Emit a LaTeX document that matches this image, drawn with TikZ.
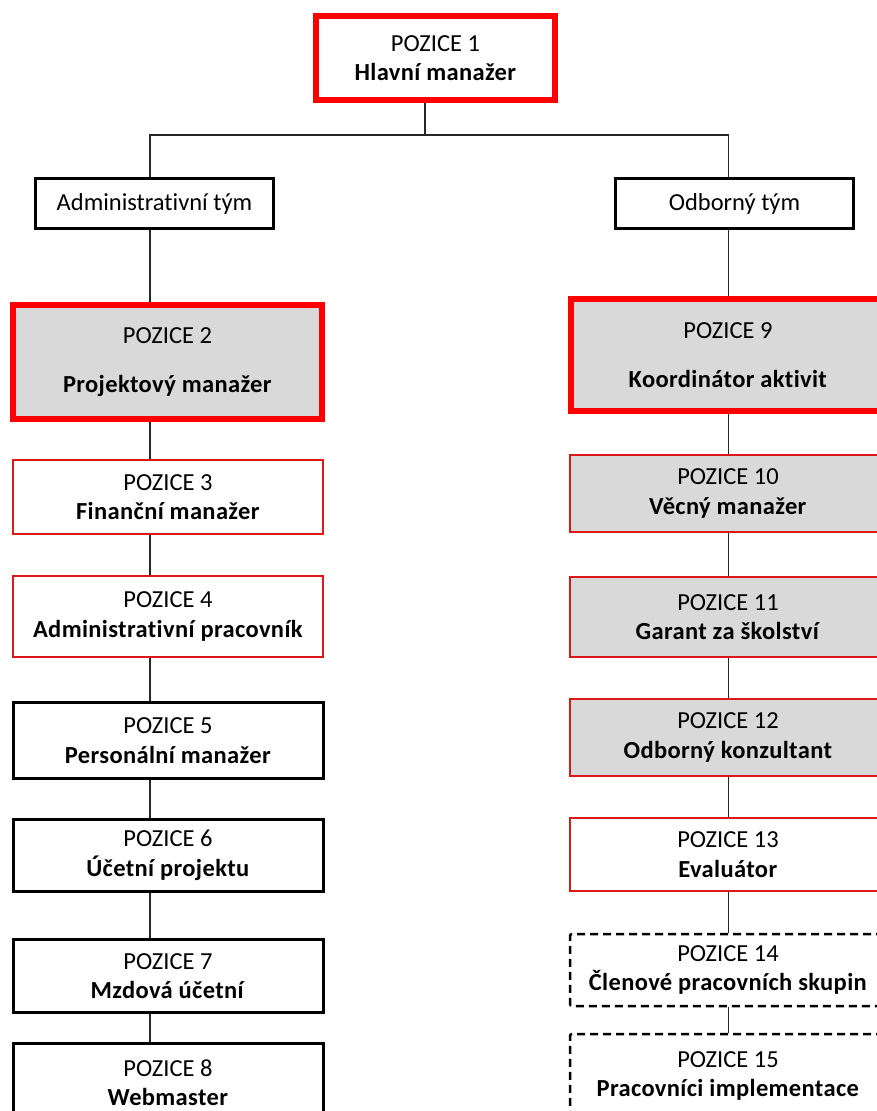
\documentclass[tikz,border=0pt]{standalone}
\usepackage{fontspec}
\setmainfont{Carlito}[Ligatures=NoCommon, BoldFeatures={LetterSpace=1.5}]
\usepackage{tikz}
\usepackage{xcolor}
\usetikzlibrary{positioning}
\definecolor{pozred}{rgb}{1, 0, 0}
\definecolor{pozdarkred}{rgb}{0.86, 0.1, 0.1}
\definecolor{pozgrey}{rgb}{0.85, 0.85, 0.85}
\definecolor{pozline}{rgb}{0.15, 0.15, 0.15}

\begin{document}
\begin{tikzpicture}[x=1pt, y=-1pt,
        box/.style={draw, rectangle, inner sep=0pt, align=center, fill=white, font=\fontsize{24.5}{29.5}\selectfont},
        keybox/.style={box, line width=6pt, draw=pozred},
        redbox/.style={box, line width=2.5pt, draw=pozdarkred},
        blackbox/.style={box, line width=3pt, draw=black},
        dashbox/.style={box, line width=2.5pt, draw=black, dash pattern=on 8pt off 5pt, rounded corners=2pt},
        link/.style={line width=1.3pt, color=pozline}]
        \useasboundingbox (0,0) rectangle (876,1111);

        \node[keybox, minimum width=239pt, minimum height=84pt] (P1) at (435.5, 58) {POZICE 1\\\textbf{Hlavní manažer}};

        \node[blackbox, minimum width=238pt, minimum height=50pt] (Ta) at (154.5, 203.5) {Administrativní tým};
        \node[blackbox, minimum width=238pt, minimum height=50pt] (Tb) at (734.5, 203.5) {Odborný tým};

        \node[keybox, fill=pozgrey, minimum width=309pt, minimum height=114pt] (P2) at (167.5, 362) {POZICE 2\\[20pt]\textbf{Projektový manažer}};
        \node[redbox, minimum width=310pt, minimum height=74pt] (P3) at (168, 497) {POZICE 3\\\textbf{Finanční manažer}};
        \node[redbox, minimum width=310pt, minimum height=81pt] (P4) at (168, 616.5) {POZICE 4\\\textbf{Administrativní pracovník}};
        \node[blackbox, minimum width=310pt, minimum height=76pt] (P5) at (168, 740.5) {POZICE 5\\\textbf{Personální manažer}};
        \node[blackbox, minimum width=310pt, minimum height=72pt] (P6) at (168, 855.5) {POZICE 6\\\textbf{Účetní projektu}};
        \node[blackbox, minimum width=310pt, minimum height=73pt] (P7) at (168, 976) {POZICE 7\\\textbf{Mzdová účetní}};
        \node[blackbox, minimum width=310pt, minimum height=78pt] (P8) at (168, 1082.5) {POZICE 8\\\textbf{Webmaster}};

        \node[keybox, fill=pozgrey, minimum width=314pt, minimum height=112pt] (P9) at (728, 355) {POZICE 9\\[20pt]\textbf{Koordinátor aktivit}};
        \node[redbox, fill=pozgrey, minimum width=316pt, minimum height=77pt] (P10) at (728, 493.5) {POZICE 10\\\textbf{Věcný manažer}};
        \node[redbox, fill=pozgrey, minimum width=316pt, minimum height=80pt] (P11) at (728, 617) {POZICE 11\\\textbf{Garant za školství}};
        \node[redbox, fill=pozgrey, minimum width=316pt, minimum height=77pt] (P12) at (728, 737.5) {POZICE 12\\\textbf{Odborný konzultant}};
        \node[redbox, minimum width=316pt, minimum height=73pt] (P13) at (728, 854.5) {POZICE 13\\\textbf{Evaluátor}};
        \node[dashbox, minimum width=316pt, minimum height=72pt] (P14) at (728, 970) {POZICE 14\\\textbf{Členové pracovních skupin}};
        \node[dashbox, minimum width=316pt, minimum height=84pt] (P15) at (728, 1076) {POZICE 15\\\textbf{Pracovníci implementace}};

        \coordinate (split) at (425, 135);
        \coordinate (lx) at (150, 0);
        \coordinate (rx) at (728.5, 0);

        \draw [link] (P1.south -| split) -- (split);
        \draw [link] (Ta.north -| lx) |- (split) -| (Tb.north -| rx);

        \draw [link] (Ta.south -| lx) -- (P2.north -| lx);
        \draw [link] (P2.south -| lx) -- (P3.north -| lx);
        \draw [link] (P3.south -| lx) -- (P4.north -| lx);
        \draw [link] (P4.south -| lx) -- (P5.north -| lx);
        \draw [link] (P5.south -| lx) -- (P6.north -| lx);
        \draw [link] (P6.south -| lx) -- (P7.north -| lx);
        \draw [link] (P7.south -| lx) -- (P8.north -| lx);

        \draw [link] (Tb.south -| rx) -- (P9.north -| rx);
        \draw [link] (P9.south -| rx) -- (P10.north -| rx);
        \draw [link] (P10.south -| rx) -- (P11.north -| rx);
        \draw [link] (P11.south -| rx) -- (P12.north -| rx);
        \draw [link] (P12.south -| rx) -- (P13.north -| rx);
        \draw [link] (P13.south -| rx) -- (P14.north -| rx);
        \draw [link] (P14.south -| rx) -- (P15.north -| rx);

    \end{tikzpicture}
\end{document}
